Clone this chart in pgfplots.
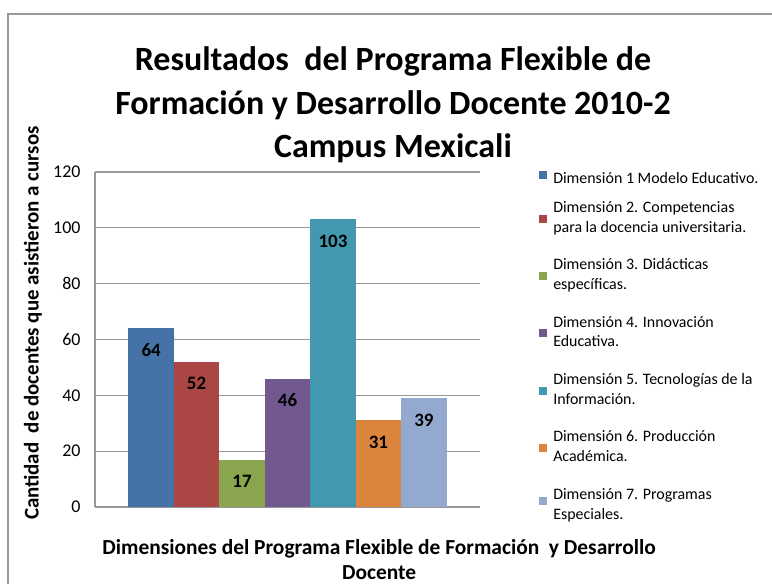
\documentclass[border=0pt]{standalone}
\usepackage{pgfplots}
\pgfplotsset{compat=1.18}
\usepackage{fontspec}
\setmainfont{Carlito}
\definecolor{c1}{HTML}{4572A7}
\definecolor{c2}{HTML}{AA4643}
\definecolor{c3}{HTML}{89A54E}
\definecolor{c4}{HTML}{71588F}
\definecolor{c5}{HTML}{4198AF}
\definecolor{c6}{HTML}{DB843D}
\definecolor{c7}{HTML}{93A9CF}
\definecolor{gridgray}{HTML}{989898}
\begin{document}
\begin{tikzpicture}
\useasboundingbox (0,0) rectangle (772bp,584bp);
\fill[white] (0,0) rectangle (772bp,584bp);
\draw[gridgray, line width=1.6bp] (8bp,-20bp) -- (8bp,570bp) -- (800bp,570bp);
\begin{axis}[
  at={(95bp,77bp)}, anchor=south west,
  scale only axis, width=385bp, height=335bp,
  xmin=-1.235, xmax=7.235, ymin=0, ymax=120,
  ytick={0,20,...,120}, xtick=\empty,
  axis x line*=bottom, axis y line*=left,
  axis line style={gridgray, line width=1.3bp},
  ymajorgrids, grid style={gridgray, line width=1.3bp},
  major tick length=6bp, tick style={gridgray, line width=1.3bp},
  y tick label style={font=\fontsize{18}{21}\selectfont, xshift=-11bp},
  /pgf/number format/assume math mode=true,
  clip=false,
  nodes near coords style={font=\fontsize{19}{22}\selectfont\bfseries, anchor=center, yshift=-22bp, text=black},
  title={Resultados\ \ del Programa Flexible de\\Formación y Desarrollo Docente 2010-2\\Campus Mexicali},
  title style={font=\fontsize{34.1}{43.5}\selectfont\bfseries, align=center, at={(axis description cs:0.774,1.182)}, anchor=center},
  xlabel={Dimensiones del Programa Flexible de Formación\ \ y Desarrollo\\Docente},
  xlabel style={font=\fontsize{21.5}{25}\selectfont\bfseries, align=center, at={(axis description cs:0.738,-0.158)}, anchor=center},
  ylabel={Cantidad\ \ de docentes que asistieron a cursos},
  ylabel style={font=\fontsize{21}{24}\selectfont\bfseries, at={(axis description cs:-0.161,0.549)}, anchor=center},
  legend style={at={(axis description cs:1.1456,1.02)}, anchor=north west, draw=none, fill=none,
    font=\fontsize{16}{20}\selectfont, row sep=5bp, column sep=4bp, nodes={text depth=, inner sep=2bp}, cells={anchor=base west}},
  legend image code/.code={\fill[#1] (0bp,0bp) rectangle (8bp,8bp);},
  legend cell align=left,
]
\addplot[ybar, bar width=1, bar shift=0pt, fill=c1, draw=none, nodes near coords] coordinates {(0,64)};
\addlegendentry{\begin{tabular}[t]{@{}l@{}}Dimensión 1 Modelo Educativo.\end{tabular}}
\addplot[ybar, bar width=1, bar shift=0pt, fill=c2, draw=none, nodes near coords] coordinates {(1,52)};
\addlegendentry{\begin{tabular}[t]{@{}l@{}}Dimensión 2. Competencias\\para la docencia universitaria.\\[8.5bp]\end{tabular}}
\addplot[ybar, bar width=1, bar shift=0pt, fill=c3, draw=none, nodes near coords] coordinates {(2,17)};
\addlegendentry{\begin{tabular}[t]{@{}l@{}}Dimensión 3. Didácticas\\específicas.\\[8.5bp]\end{tabular}}
\addplot[ybar, bar width=1, bar shift=0pt, fill=c4, draw=none, nodes near coords] coordinates {(3,46)};
\addlegendentry{\begin{tabular}[t]{@{}l@{}}Dimensión 4. Innovación\\Educativa.\\[8.5bp]\end{tabular}}
\addplot[ybar, bar width=1, bar shift=0pt, fill=c5, draw=none, nodes near coords] coordinates {(4,103)};
\addlegendentry{\begin{tabular}[t]{@{}l@{}}Dimensión 5. Tecnologías de la\\Información.\\[8.5bp]\end{tabular}}
\addplot[ybar, bar width=1, bar shift=0pt, fill=c6, draw=none, nodes near coords] coordinates {(5,31)};
\addlegendentry{\begin{tabular}[t]{@{}l@{}}Dimensión 6. Producción\\Académica.\\[8.5bp]\end{tabular}}
\addplot[ybar, bar width=1, bar shift=0pt, fill=c7, draw=none, nodes near coords] coordinates {(6,39)};
\addlegendentry{\begin{tabular}[t]{@{}l@{}}Dimensión 7. Programas\\Especiales.\end{tabular}}
\end{axis}
\end{tikzpicture}
\end{document}
